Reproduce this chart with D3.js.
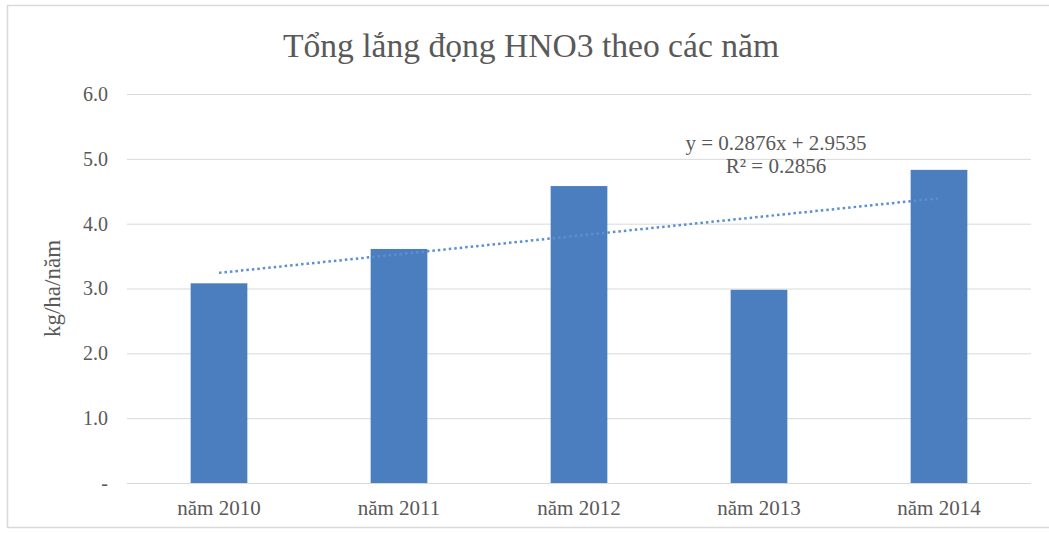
<!DOCTYPE html>
<html>
<head>
<meta charset="utf-8">
<script src="https://cdn.jsdelivr.net/npm/d3@7"></script>
<style>
  html, body { margin: 0; padding: 0; background: #fff; }
  svg { display: block; }
</style>
</head>
<body>
<svg id="chart" width="1049" height="533"></svg>
<script>
const categories = ["năm 2010", "năm 2011", "năm 2012", "năm 2013", "năm 2014"];
const values = [3.08, 3.61, 4.58, 2.98, 4.83];
const yTicks = [0, 1, 2, 3, 4, 5, 6];
const yTickLabels = ["-", "1.0", "2.0", "3.0", "4.0", "5.0", "6.0"];
const trendSlope = 0.2876;
const trendIntercept = 2.9535;
const trendLabels = ["y = 0.2876x + 2.9535", "R² = 0.2856"];
const titleText = "Tổng lắng đọng HNO3 theo các năm";
const yAxisTitle = "kg/ha/năm";

const svg = d3.select("#chart");
const font = "'Liberation Serif', 'Times New Roman', serif";
const textColor = "#595959";

// chart border
svg.append("rect")
  .attr("x", 7.5).attr("y", 5.5)
  .attr("width", 1060).attr("height", 522)
  .attr("fill", "#fff").attr("stroke", "#d9d9d9").attr("stroke-width", 1.5);

const plot = { left: 129, right: 1029, top: 94, bottom: 483 };

const x = d3.scaleBand()
  .domain(categories)
  .range([plot.left, plot.right])
  .paddingInner(0.685)
  .paddingOuter(0.3425);

const y = d3.scaleLinear()
  .domain([0, 6])
  .range([plot.bottom, plot.top]);

// gridlines
svg.append("g")
  .selectAll("line")
  .data(yTicks)
  .join("line")
  .attr("x1", plot.left - 2).attr("x2", plot.right + 2)
  .attr("y1", d => y(d) + 0.5).attr("y2", d => y(d) + 0.5)
  .attr("stroke", "#d9d9d9").attr("stroke-width", 1);

// y tick labels via axis
const yAxis = d3.axisLeft(y)
  .tickValues(yTicks)
  .tickFormat((d, i) => yTickLabels[i])
  .tickSize(0)
  .tickPadding(0);
const yg = svg.append("g")
  .attr("transform", `translate(${plot.left - 21},0)`)
  .call(yAxis);
yg.select(".domain").remove();
yg.selectAll("text")
  .attr("font-family", font).attr("font-size", 20)
  .attr("fill", textColor);

// bars
svg.append("g")
  .selectAll("rect")
  .data(values)
  .join("rect")
  .attr("x", (d, i) => x(categories[i]))
  .attr("width", x.bandwidth())
  .attr("y", d => y(d))
  .attr("height", d => y(0) - y(d))
  .attr("fill", "#4a7ebf");

// x axis labels
const xAxis = d3.axisBottom(x).tickSize(0).tickPadding(0);
const xg = svg.append("g")
  .attr("transform", `translate(0,${plot.bottom + 17})`)
  .call(xAxis);
xg.select(".domain").remove();
xg.selectAll("text")
  .attr("font-family", font).attr("font-size", 21)
  .attr("fill", textColor);

// trendline
const trendPts = categories.map((c, i) => [x(c) + x.bandwidth() / 2, y(trendSlope * (i + 1) + trendIntercept)]);
svg.append("path")
  .datum([trendPts[0], trendPts[trendPts.length - 1]])
  .attr("d", d3.line())
  .attr("fill", "none")
  .attr("stroke", "#5b8fd0")
  .attr("stroke-width", 2.5)
  .attr("stroke-dasharray", "2.5,3");

// trend labels
svg.append("g")
  .selectAll("text")
  .data(trendLabels)
  .join("text")
  .attr("x", 776)
  .attr("y", (d, i) => 150 + i * 23)
  .attr("text-anchor", "middle")
  .attr("font-family", font).attr("font-size", 21)
  .attr("fill", textColor)
  .text(d => d);

// title
svg.append("text")
  .attr("x", 531).attr("y", 57)
  .attr("text-anchor", "middle")
  .attr("font-family", font).attr("font-size", 33.6)
  .attr("fill", textColor)
  .text(titleText);

// y axis title
svg.append("text")
  .attr("transform", `translate(60,${(plot.top + plot.bottom) / 2}) rotate(-90)`)
  .attr("text-anchor", "middle")
  .attr("font-family", font).attr("font-size", 23)
  .attr("fill", textColor)
  .text(yAxisTitle);
</script>
</body>
</html>
